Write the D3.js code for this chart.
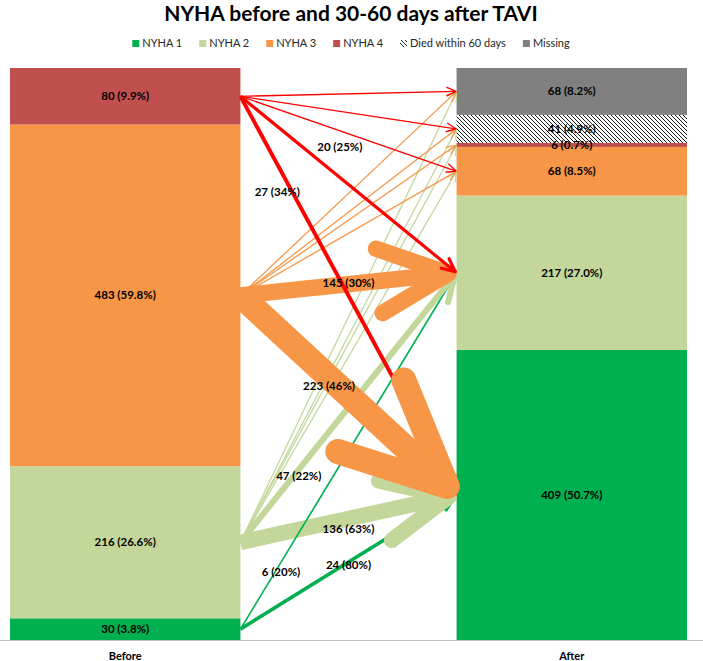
<!DOCTYPE html>
<html><head><meta charset="utf-8">
<script src="https://cdn.jsdelivr.net/npm/d3@7"></script>
<style>body{margin:0;background:#fff}</style>
</head><body>
<svg id="chart" width="703" height="661"></svg>
<script>
// ---------- data ----------
const categories = ["NYHA 1", "NYHA 2", "NYHA 3", "NYHA 4", "Died within 60 days", "Missing"];
const barNames = ["Before", "After"];
const beforeCounts = [30, 216, 483, 80];
const beforePct = [3.8, 26.6, 59.8, 9.9];
const afterCounts = [409, 217, 68, 6, 41, 68];
const afterPct = [50.7, 27.0, 8.5, 0.7, 4.9, 8.2];

// flows (in drawing order); count null = unlabelled thin arrow
const flowFrom  = ["NYHA 2","NYHA 2","NYHA 2","NYHA 2","NYHA 3","NYHA 3","NYHA 3","NYHA 3","NYHA 4","NYHA 4","NYHA 4",
                   "NYHA 1","NYHA 2","NYHA 1","NYHA 2","NYHA 3","NYHA 4","NYHA 4","NYHA 3"];
const flowTo    = ["Missing","Died within 60 days","NYHA 4","NYHA 3","Missing","Died within 60 days","NYHA 4","NYHA 3","Missing","Died within 60 days","NYHA 3",
                   "NYHA 1","NYHA 1","NYHA 2","NYHA 2","NYHA 2","NYHA 2","NYHA 1","NYHA 1"];
const flowCount = [null,null,null,null,null,null,null,null,null,null,null,
                   24,136,6,47,145,20,27,223];
const flowShare = [null,null,null,null,null,null,null,null,null,null,null,
                   80,63,20,22,30,25,34,46];

// ---------- styles / layout ----------
const W = 703, H = 661;
const fillColor = {"NYHA 1":"#00B050","NYHA 2":"#C4D79B","NYHA 3":"#F79646","NYHA 4":"#C0504D",
                   "Died within 60 days":"url(#hatch)","Missing":"#808080"};
const arrowColor = {"NYHA 1":"#00B050","NYHA 2":"#C4D79B","NYHA 3":"#F79646","NYHA 4":"#FF0000"};
// label placement along each labelled arrow: [t, dx, dy]
const labelPlace = {
  "NYHA 1>NYHA 1":[0.5,0,3], "NYHA 2>NYHA 1":[0.5,0,10], "NYHA 1>NYHA 2":[0.16,6,0],
  "NYHA 2>NYHA 2":[0.27,0,6], "NYHA 3>NYHA 2":[0.5,0,-1], "NYHA 4>NYHA 2":[0.46,0,-30],
  "NYHA 4>NYHA 1":[0.24,-15,0], "NYHA 3>NYHA 1":[0.41,0,9]
};
const FONT = "Lato, 'Open Sans', sans-serif";

const svg = d3.select("#chart");
const defs = svg.append("defs");
const pat = defs.append("pattern").attr("id","hatch").attr("patternUnits","userSpaceOnUse")
  .attr("width",4).attr("height",4);
pat.append("rect").attr("width",4).attr("height",4).attr("fill","#fff");
pat.append("path").attr("d","M-1,-1 L5,5 M-1,3 L1,5 M3,-1 L5,1").attr("stroke","#000").attr("stroke-width",0.9);

const x = d3.scaleBand().domain(barNames).range([10, 687]).paddingInner(0.484).paddingOuter(0);
const y = d3.scaleLinear().domain([0, 1]).range([640, 68]);

function stackBar(counts, pct) {
  const total = d3.sum(pct);
  let acc = 0;
  return counts.map((c, i) => {
    const seg = {cat: categories[i], count: c, pct: pct[i], y0: acc / total, y1: (acc + pct[i]) / total};
    acc += pct[i];
    return seg;
  });
}
const segs = {Before: stackBar(beforeCounts, beforePct), After: stackBar(afterCounts, afterPct)};

// bars
barNames.forEach(b => {
  const g = svg.append("g");
  g.selectAll("rect").data(segs[b]).join("rect")
    .attr("x", x(b)).attr("width", x.bandwidth())
    .attr("y", d => y(d.y1)).attr("height", d => y(d.y0) - y(d.y1))
    .attr("fill", d => fillColor[d.cat]);
});

// axis baseline
svg.append("line").attr("x1",0).attr("x2",W).attr("y1",640.5).attr("y2",640.5)
  .attr("stroke","#BFBFBF").attr("stroke-width",1);

// arrows
const segMid = (b, cat) => { const s = segs[b].find(d => d.cat === cat); return y((s.y0 + s.y1) / 2); };
const wScale = d3.scaleLinear().domain([0, 223]).range([1, 25]);
const xStart = x("Before") + x.bandwidth();
const xEnd = x("After");
const arrowG = svg.append("g");
const flows = flowFrom.map((f, i) => ({from: f, to: flowTo[i], n: flowCount[i], share: flowShare[i]}));
flows.forEach(fl => {
  const x0 = xStart, y0 = segMid("Before", fl.from);
  const x1 = xEnd, y1 = segMid("After", fl.to);
  const w = fl.n == null ? 1.3 : wScale(fl.n);
  const len = Math.hypot(x1 - x0, y1 - y0);
  const ux = (x1 - x0) / len, uy = (y1 - y0) / len;
  const tx = x1 - ux * w / 2, ty = y1 - uy * w / 2;
  const L = Math.max(10, 4.6 * w), a = 25 * Math.PI / 180;
  const ang = Math.atan2(-uy, -ux);
  const w1 = [tx + L * Math.cos(ang + a), ty + L * Math.sin(ang + a)];
  const w2 = [tx + L * Math.cos(ang - a), ty + L * Math.sin(ang - a)];
  const col = arrowColor[fl.from];
  arrowG.append("path").attr("d", `M${x0},${y0}L${tx},${ty}`)
    .attr("stroke", col).attr("stroke-width", w).attr("fill","none").attr("stroke-linecap","butt");
  arrowG.append("path").attr("d", `M${w1[0]},${w1[1]}L${tx},${ty}L${w2[0]},${w2[1]}`)
    .attr("stroke", col).attr("stroke-width", w).attr("fill","none")
    .attr("stroke-linecap","round").attr("stroke-linejoin","round");
  fl.geom = {x0, y0, x1, y1};
});

// flow labels
const labG = svg.append("g").attr("font-family", FONT).attr("font-weight","bold")
  .attr("font-size","11.5px").attr("fill","#000").attr("text-anchor","middle");
flows.filter(f => f.n != null).forEach(fl => {
  const p = labelPlace[fl.from + ">" + fl.to];
  const g = fl.geom;
  labG.append("text")
    .attr("x", g.x0 + (g.x1 - g.x0) * p[0] + p[1])
    .attr("y", g.y0 + (g.y1 - g.y0) * p[0] + p[2])
    .attr("dy","0.35em")
    .text(`${fl.n} (${fl.share}%)`);
});

// bar segment labels
barNames.forEach(b => {
  svg.append("g").attr("font-family", FONT).attr("font-weight","bold").attr("font-size","11.5px")
    .attr("text-anchor","middle").attr("fill","#000")
    .selectAll("text").data(segs[b]).join("text")
    .attr("x", x(b) + x.bandwidth() / 2)
    .attr("y", d => y((d.y0 + d.y1) / 2)).attr("dy","0.35em")
    .text(d => `${d.count} (${d.pct.toFixed(1)}%)`);
});

// x axis labels
svg.append("g").attr("font-family", FONT).attr("font-weight","bold").attr("font-size","11px")
  .attr("text-anchor","middle").attr("fill","#000")
  .selectAll("text").data(barNames).join("text")
  .attr("x", d => x(d) + x.bandwidth() / 2).attr("y", 660).text(d => d);

// title
svg.append("text").attr("x", 351).attr("y", 21).attr("text-anchor","middle")
  .attr("font-family", FONT).attr("font-weight","bold").attr("font-size","21px").attr("fill","#000")
  .text("NYHA before and 30-60 days after TAVI");

// legend
const leg = svg.append("g").attr("font-family", FONT).attr("font-size","11px").attr("fill","#262626");
let lx = 0;
categories.forEach(c => {
  const g = leg.append("g").attr("transform", `translate(${lx},0)`);
  g.append("rect").attr("x",0).attr("y",-7).attr("width",7).attr("height",7)
    .attr("fill", fillColor[c]);
  const t = g.append("text").attr("x", 10).attr("y", 0).text(c);
  lx += 10 + t.node().getComputedTextLength() + 17;
});
const legW = lx - 17;
leg.attr("transform", `translate(${351 - legW / 2},47)`);
</script>
</body></html>
